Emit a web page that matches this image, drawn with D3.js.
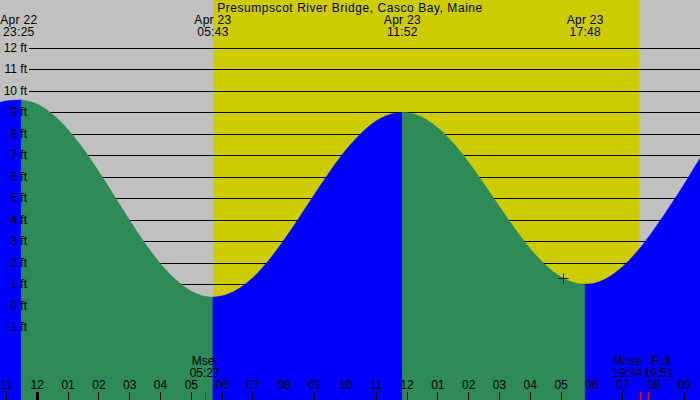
<!DOCTYPE html>
<html>
<head>
<meta charset="utf-8">
<script src="https://cdn.jsdelivr.net/npm/d3@7"></script>
<style>
  html, body { margin: 0; padding: 0; background: #fff; }
  svg { display: block; }
  text { font-family: "Liberation Sans", Arial, sans-serif; font-size: 12px; fill: #000; }
</style>
</head>
<body>
<svg id="chart" width="700" height="400"></svg>
<script>
// ---- data (hours relative to Apr 23 00:00) ----
const title = "Presumpscot River Bridge, Casco Bay, Maine";
const sampleHours = [-1.25, -1.0, -0.5, 0, 0.5, 1, 1.5, 2, 2.5, 3, 3.5, 4, 4.5, 5, 5.5, 5.717,
  6, 6.5, 7, 7.5, 8, 8.5, 9, 9.5, 10, 10.5, 11, 11.5, 11.867,
  12, 12.5, 13, 13.5, 14, 14.5, 15, 15.5, 16, 16.5, 17, 17.5, 17.8,
  18, 18.5, 19, 19.5, 20, 20.5, 21, 21.5, 22];
const sampleFeet = [9.45, 9.53, 9.58, 9.39, 8.93, 8.22, 7.32, 6.27, 5.14, 4.01, 2.93, 1.98, 1.22, 0.69, 0.43, 0.40,
  0.45, 0.74, 1.29, 2.06, 3.01, 4.06, 5.16, 6.22, 7.19, 7.99, 8.59, 8.92, 9.00,
  8.99, 8.78, 8.30, 7.60, 6.71, 5.70, 4.65, 3.62, 2.68, 1.91, 1.35, 1.05, 1.00,
  1.02, 1.28, 1.80, 2.55, 3.48, 4.53, 5.63, 6.80, 7.80];
const extremeHours = [-0.583, 5.717, 11.867, 17.8];
const extremeDates = ["Apr 22", "Apr 23", "Apr 23", "Apr 23"];
const extremeTimes = ["23:25", "05:43", "11:52", "17:48"];
const daylightHours = [5.73, 19.555];
const feetTicks = [-1, 0, 1, 2, 3, 4, 5, 6, 7, 8, 9, 10, 11, 12];
const hourTicks = [-1, 0, 1, 2, 3, 4, 5, 6, 7, 8, 9, 10, 11, 12, 13, 14, 15, 16, 17, 18, 19, 20, 21];
const hourLabels = ["11", "12", "01", "02", "03", "04", "05", "06", "07", "08", "09", "10", "11",
  "12", "01", "02", "03", "04", "05", "06", "07", "08", "09"];
const moonEvents = ["Mset", "Mrise", "Full"];
const moonHours = [5.45, 19.567, 19.85];
const moonTimes = ["05:27", "19:34", "19:51"];
const moonLabelShift = [0, -12.5, 10];
const nowHour = 17.09, nowFeet = 1.28;

// ---- layout ----
const W = 700, H = 400;
const svg = d3.select("#chart");
const x = d3.scaleLinear().domain([-1.194, 21.525]).range([0, W]);
const y = d3.scaleLinear().domain([-1, 12]).range([327.24, 48]);

const colGray = "#c0c0c0", colDay = "#cccc00", colRise = "#0000ff", colFall = "#2e8b57";

// background
svg.append("rect").attr("x", 0).attr("y", 0).attr("width", W).attr("height", H).attr("fill", colGray);
svg.append("rect").attr("x", x(daylightHours[0])).attr("y", 0)
  .attr("width", x(daylightHours[1]) - x(daylightHours[0])).attr("height", H).attr("fill", colDay);

// grid lines
svg.append("g").selectAll("line").data(feetTicks).join("line")
  .attr("x1", 29).attr("x2", W)
  .attr("y1", d => Math.round(y(d)) + 0.5).attr("y2", d => Math.round(y(d)) + 0.5)
  .attr("stroke", "#000").attr("stroke-width", 1);

// tide areas, coloured by rising / falling segments (split at local extremes of the samples)
const pts = sampleHours.map((h, i) => ({ h, v: sampleFeet[i] }));
const bounds = [0];
for (let i = 1; i < pts.length - 1; i++) {
  const a = pts[i].v - pts[i - 1].v, b = pts[i + 1].v - pts[i].v;
  if (a * b < 0) bounds.push(i);
}
bounds.push(pts.length - 1);
const area = d3.area().x(d => x(d.h)).y0(H).y1(d => y(d.v)).curve(d3.curveMonotoneX);
for (let k = 0; k < bounds.length - 1; k++) {
  const seg = pts.slice(bounds[k], bounds[k + 1] + 1);
  const rising = seg[seg.length - 1].v > seg[0].v;
  svg.append("path").datum(seg).attr("d", area).attr("fill", rising ? colRise : colFall)
    .attr("stroke", rising ? colRise : colFall).attr("stroke-width", 0.6);
}

// y labels
svg.append("g").selectAll("text").data(feetTicks).join("text")
  .attr("x", 27).attr("y", d => y(d) + 4).attr("text-anchor", "end")
  .text(d => d + " ft");

// title
svg.append("text").attr("x", 350).attr("y", 12).attr("text-anchor", "middle")
  .style("letter-spacing", "0.55px").text(title);

// extreme labels
const ex = svg.append("g").selectAll("g").data(extremeHours).join("g");
ex.append("text").attr("x", d => x(d)).attr("y", 24).attr("text-anchor", "middle")
  .style("letter-spacing", "0.3px").text((d, i) => extremeDates[i]);
ex.append("text").attr("x", d => x(d)).attr("y", 36).attr("text-anchor", "middle")
  .style("letter-spacing", "0.3px").text((d, i) => extremeTimes[i]);

// hour axis
svg.append("g").selectAll("line").data(hourTicks).join("line")
  .attr("x1", d => Math.round(x(d)) + 0.5).attr("x2", d => Math.round(x(d)) + 0.5)
  .attr("y1", 392).attr("y2", H)
  .attr("stroke", "#000").attr("stroke-width", d => d === 0 ? 3 : 1);
svg.append("g").selectAll("text").data(hourTicks).join("text")
  .attr("x", d => x(d) + 0.5).attr("y", 389).attr("text-anchor", "middle")
  .text((d, i) => hourLabels[i]);

// moon events
svg.append("g").selectAll("line").data(moonHours).join("line")
  .attr("x1", d => Math.round(x(d)) + 0.5).attr("x2", d => Math.round(x(d)) + 0.5)
  .attr("y1", 392).attr("y2", H).attr("stroke", "#ff0000").attr("stroke-width", 1);
const me = svg.append("g").selectAll("g").data(moonHours).join("g");
me.append("text").attr("x", (d, i) => x(d) + moonLabelShift[i] + (i === 2 ? 2.5 : 0)).attr("y", 365)
  .attr("text-anchor", "middle").text((d, i) => moonEvents[i]);
me.append("text").attr("x", (d, i) => x(d) + moonLabelShift[i]).attr("y", 377)
  .attr("text-anchor", "middle").text((d, i) => moonTimes[i]);

// current-time marker
const nx = Math.round(x(nowHour)) + 0.5, ny = Math.round(y(nowFeet)) + 0.5;
svg.append("path").attr("d", `M${nx - 5},${ny}H${nx + 5}M${nx},${ny - 5}V${ny + 5}`)
  .attr("stroke", "#000").attr("stroke-width", 1);
</script>
</body>
</html>
